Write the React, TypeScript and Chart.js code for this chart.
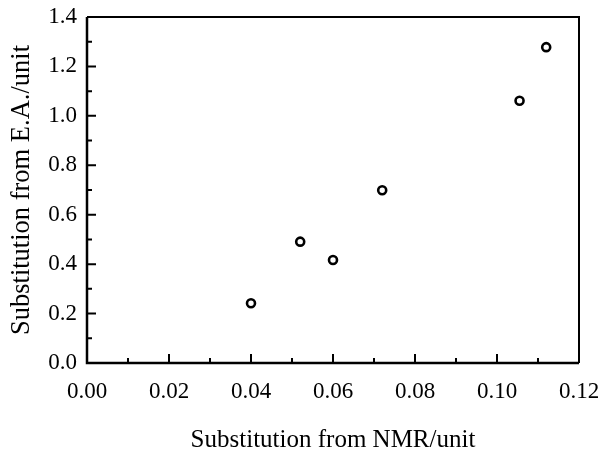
import React, { useEffect, useRef } from 'react';
import { Chart, registerables } from 'chart.js';

Chart.register(...registerables);

// Data
const nmrSubstitution = [0.04, 0.052, 0.06, 0.072, 0.1055, 0.112];
const eaSubstitution = [0.242, 0.491, 0.417, 0.699, 1.061, 1.278];

// Tick labels
const xTickValues = [0, 0.02, 0.04, 0.06, 0.08, 0.1, 0.12];
const yTickValues = [0, 0.2, 0.4, 0.6, 0.8, 1.0, 1.2, 1.4];

const xTitle = 'Substitution from NMR/unit';
const yTitle = 'Substitution from E.A./unit';

const FONT = "'Liberation Serif', 'Times New Roman', serif";

const frameTicksPlugin = {
  id: 'frameTicks',
  afterDraw(chart: any) {
    const { ctx, chartArea, scales } = chart;
    const { left, right, top, bottom } = chartArea;
    const xs = scales.x;
    const ys = scales.y;
    ctx.save();
    ctx.strokeStyle = '#000';
    ctx.lineCap = 'butt';
    // top and right frame
    ctx.lineWidth = 2;
    ctx.beginPath();
    ctx.moveTo(left, top);
    ctx.lineTo(right, top);
    ctx.lineTo(right, bottom);
    ctx.stroke();
    // left and bottom axes
    ctx.lineWidth = 2.5;
    ctx.beginPath();
    ctx.moveTo(left, top);
    ctx.lineTo(left, bottom);
    ctx.lineTo(right, bottom);
    ctx.stroke();
    // inward ticks
    ctx.lineWidth = 2;
    ctx.beginPath();
    xTickValues.forEach((v, i) => {
      const px = xs.getPixelForValue(v);
      ctx.moveTo(px, bottom);
      ctx.lineTo(px, bottom - 9);
      if (i < xTickValues.length - 1) {
        const mid = xs.getPixelForValue((v + xTickValues[i + 1]) / 2);
        ctx.moveTo(mid, bottom);
        ctx.lineTo(mid, bottom - 5);
      }
    });
    yTickValues.forEach((v, i) => {
      const py = ys.getPixelForValue(v);
      ctx.moveTo(left, py);
      ctx.lineTo(left + 9, py);
      if (i < yTickValues.length - 1) {
        const mid = ys.getPixelForValue((v + yTickValues[i + 1]) / 2);
        ctx.moveTo(left, mid);
        ctx.lineTo(left + 5, mid);
      }
    });
    ctx.stroke();
    ctx.restore();
  },
};

export default function App() {
  const canvasRef = useRef<HTMLCanvasElement | null>(null);

  useEffect(() => {
    if (!canvasRef.current) return;
    const chart = new Chart(canvasRef.current, {
      type: 'scatter',
      data: {
        datasets: [
          {
            label: 'Substitution',
            data: nmrSubstitution.map((x, i) => ({ x, y: eaSubstitution[i] })),
            pointStyle: 'circle',
            pointRadius: 4,
            pointBorderWidth: 2.6,
            pointBackgroundColor: '#fff',
            pointBorderColor: '#000',
            showLine: false,
          },
        ],
      },
      options: {
        animation: false,
        responsive: true,
        maintainAspectRatio: false,
        layout: { padding: { left: 4, top: 17, right: 21, bottom: 0 } },
        plugins: {
          legend: { display: false },
          tooltip: { enabled: false },
        },
        scales: {
          x: {
            type: 'linear',
            min: 0,
            max: 0.12,
            grid: { display: false, drawTicks: false },
            border: { display: false },
            afterFit: (scale: any) => {
              scale.height = 90;
              scale.paddingLeft = 0;
              scale.paddingRight = 0;
            },
            afterBuildTicks: (scale: any) => {
              scale.ticks = xTickValues.map((v) => ({ value: v }));
            },
            ticks: {
              padding: 15,
              color: '#000',
              font: { family: FONT, size: 23 },
              callback: (v: any) => Number(v).toFixed(2),
            },
            title: {
              display: true,
              text: xTitle,
              color: '#000',
              font: { family: FONT, size: 25 },
              padding: { top: 0, bottom: -2 },
            },
          },
          y: {
            type: 'linear',
            min: 0,
            max: 1.4,
            grid: { display: false, drawTicks: false },
            border: { display: false },
            afterFit: (scale: any) => {
              scale.width = 83;
              scale.paddingTop = 0;
              scale.paddingBottom = 0;
            },
            afterBuildTicks: (scale: any) => {
              scale.ticks = yTickValues.map((v) => ({ value: v }));
            },
            ticks: {
              padding: 10,
              color: '#000',
              font: { family: FONT, size: 23 },
              callback: (v: any) => Number(v).toFixed(1),
            },
            title: {
              display: true,
              text: yTitle,
              color: '#000',
              font: { family: FONT, size: 26.5 },
              padding: { top: 2.5, bottom: 0 },
            },
          },
        },
      },
      plugins: [frameTicksPlugin],
    });
    return () => chart.destroy();
  }, []);

  return (
    <div style={{ position: 'fixed', left: 0, top: 0, width: 600, height: 453, background: '#fff' }}>
      <canvas ref={canvasRef} />
    </div>
  );
}
